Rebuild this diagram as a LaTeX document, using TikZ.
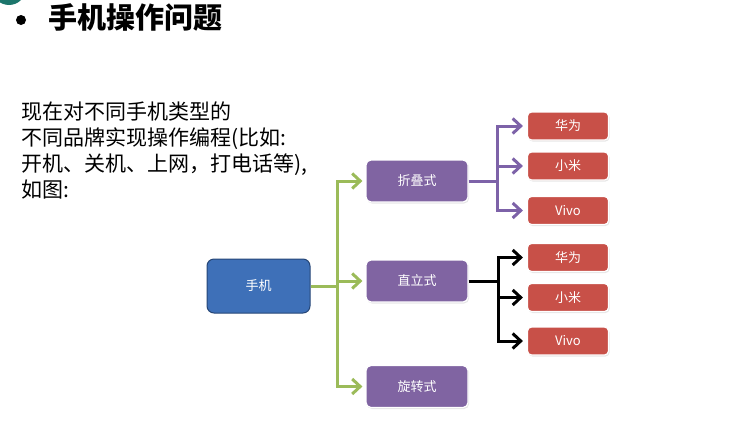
\documentclass[tikz,border=0pt]{standalone}
\usepackage{fontspec}
\setmainfont{Noto Sans CJK SC}
\usetikzlibrary{arrows.meta,shadows}
\definecolor{PhoneBlue}{RGB}{62,112,184}
\definecolor{PhoneEdge}{RGB}{38,70,118}
\definecolor{KindPurple}{RGB}{128,100,162}
\definecolor{BrandRed}{RGB}{200,80,72}
\definecolor{LinkGreen}{RGB}{155,187,89}
\definecolor{LinkPurple}{RGB}{125,98,168}
\definecolor{CornerTeal}{RGB}{28,118,108}

\begin{document}
\begin{tikzpicture}[x=1pt, y=-1pt, >={Straight Barb[length=8pt 0 0, width=15pt 0 0]},
  font=\fontsize{13}{15}\selectfont,
  phone/.style={draw=PhoneEdge, line width=1pt, rounded corners=7pt, fill=PhoneBlue,
              text=white, minimum width=103pt, minimum height=54pt},
  kind/.style={draw=white, line width=1.2pt, rounded corners=5pt, fill=KindPurple,
              text=white, minimum width=102pt, minimum height=42pt,
              drop shadow={opacity=0.2, shadow xshift=1pt, shadow yshift=-1.5pt}},
  brand/.style={draw=white, line width=1.2pt, rounded corners=4pt, fill=BrandRed,
              text=white, minimum width=81pt, minimum height=28pt,
              drop shadow={opacity=0.2, shadow xshift=1pt, shadow yshift=-1.5pt}},
  link/.style={line width=3pt}]
  \useasboundingbox (0,0) rectangle (735,423);
  \fill[CornerTeal] (9,-12) circle (17);

  % heading and intro
  \node[circle, fill=black, inner sep=0pt, minimum size=10pt] (bullet) at (21,20) {};
  \node[anchor=base west, inner sep=0pt, font=\fontsize{29}{31}\selectfont\bfseries] (title) at (48,28) {手机操作问题};
  \node[anchor=north west, inner sep=0pt, align=left, font=\fontsize{21}{26}\selectfont] (intro) at (21,102)
    {现在对不同手机类型的\\不同品牌实现操作编程(比如:\\开机、关机、上网，打电话等),\\如图:};

  % boxes
  \node[phone] (phone)   at (258.5,286) {手机};
  \node[kind]  (fold)    at (417,181)   {折叠式};
  \node[kind]  (upright) at (417,281)   {直立式};
  \node[kind]  (rotate)  at (417,386.5) {旋转式};
  \node[brand] (fHuawei) at (568,126)   {华为};
  \node[brand] (fXiaomi) at (568,166)   {小米};
  \node[brand] (fVivo)   at (568,210.5) {Vivo};
  \node[brand] (uHuawei) at (568,257.5) {华为};
  \node[brand] (uXiaomi) at (568,297.5) {小米};
  \node[brand] (uVivo)   at (568,341)   {Vivo};

  % connectors
  \draw[link, LinkGreen] (phone.east) -- ++(27,0) coordinate (gsplit);
  \foreach \t in {fold, upright, rotate}
    \draw[link, LinkGreen, ->, shorten >=3pt] (gsplit) |- (\t.west);
  \draw[link, LinkPurple] (fold.east) -- ++(29,0) coordinate (psplit);
  \foreach \t in {fHuawei, fXiaomi, fVivo}
    \draw[link, LinkPurple, ->, shorten >=4pt] (psplit) |- (\t.west);
  \draw[link, black] (upright.east) -- ++(30,0) coordinate (ksplit);
  \foreach \t in {uHuawei, uXiaomi, uVivo}
    \draw[link, black, ->, shorten >=4pt] (ksplit) |- (\t.west);
\end{tikzpicture}
\end{document}
